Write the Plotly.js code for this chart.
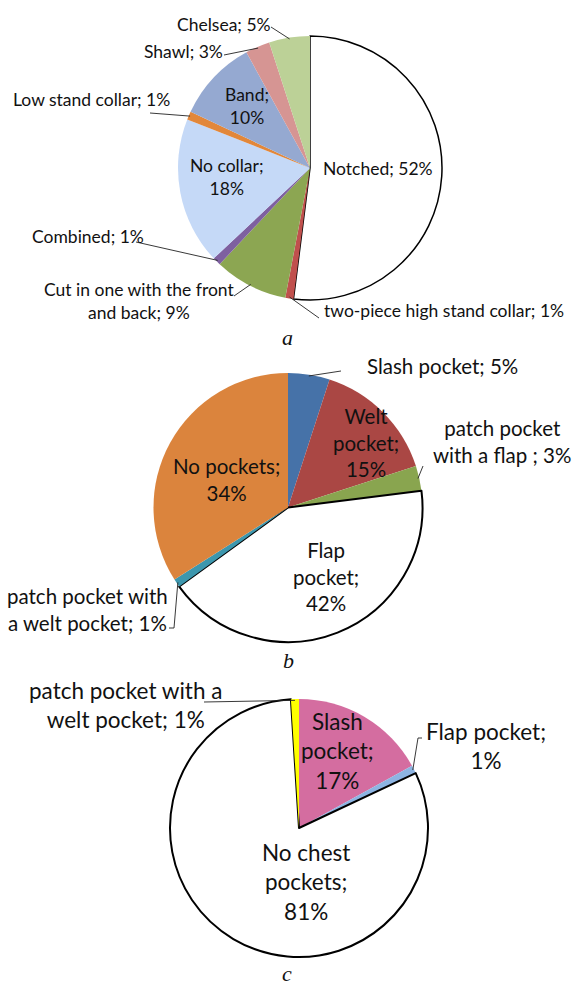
<!DOCTYPE html>
<html>
<head>
<meta charset="utf-8">
<script src="https://cdn.plot.ly/plotly-3.0.1.min.js"></script>
<style>html,body{margin:0;padding:0;background:#fff;}#chart{width:572px;height:988px;}</style>
</head>
<body>
<div id="chart"></div>
<script>
// ---- DATA ----
var collarLabels = ["Notched", "two-piece high stand collar", "Cut in one with the front and back", "Combined", "No collar", "Low stand collar", "Band", "Shawl", "Chelsea"];
var collarValues = [52, 1, 9, 1, 18, 1, 10, 3, 5];
var collarColors = ["#FFFFFF", "#C0504D", "#8CA652", "#7E60A0", "#C5D9F7", "#E2873A", "#95A9D1", "#D69593", "#BCD197"];

var pocketLabels = ["Slash pocket", "Welt pocket", "patch pocket with a flap ", "Flap pocket", "patch pocket with a welt pocket", "No pockets"];
var pocketValues = [5, 15, 3, 42, 1, 34];
var pocketColors = ["#4672A8", "#AA4744", "#89A54F", "#FFFFFF", "#3D97AE", "#DB843D"];

var chestLabels = ["Slash pocket", "Flap pocket", "No chest pockets", "patch pocket with a welt pocket"];
var chestValues = [17, 1, 81, 1];
var chestColors = ["#D46DA0", "#8DB4E2", "#FFFFFF", "#FFFF00"];

var panelLetters = ["a", "b", "c"];

// ---- LAYOUT (pixel geometry) ----
var W = 572, H = 988;
function px(x){ return x / W; }
function py(y){ return 1 - y / H; }

var pies = [
  {labels: collarLabels, values: collarValues, colors: collarColors, cx: 310, cy: 168, r: 132, font: 17.5,
   outline: [1.5,0,0,0,0,0,0,0,0],
   lab: [
     {t:[378,168], w:[2]},
     {t:[444,310], w:[5], lead:[[319,318]]},
     {t:[139,301], w:[6,3], lead:[[234,296]]},
     {t:[88,236], w:[2], lead:[[136,242]]},
     {t:[227,177], w:[2,1]},
     {t:[91,100], w:[4], lead:[[150,113]]},
     {t:[247,106], w:[1,1]},
     {t:[183,51], w:[2], lead:[[224,55]]},
     {t:[224,24], w:[2], lead:[[271,27]]}
   ], letter: [287,338]},
  {labels: pocketLabels, values: pocketValues, colors: pocketColors, cx: 288, cy: 507.5, r: 134.5, font: 20.5,
   outline: [0,0,0,2,0,0],
   lab: [
     {t:[442,366], w:[3], lead:[[341,371]]},
     {t:[366,442], w:[1,1,1]},
     {t:[502,441], w:[2,5], lead:[[423,466]]},
     {t:[326,576], w:[1,1,1]},
     {t:[87,609], w:[3,4], lead:[[174,628],[169,628]]},
     {t:[226,479], w:[2,1]}
   ], letter: [288,660]},
  {labels: chestLabels, values: chestValues, colors: chestColors, cx: 299, cy: 828, r: 129, font: 22.5,
   outline: [0,0,2,0],
   lab: [
     {t:[337,751], w:[1,1,1]},
     {t:[486,746], w:[2,1], lead:[[418,738],[422,738]]},
     {t:[306,882], w:[2,1,1]},
     {t:[125,705], w:[4,4], lead:[[204,702]]}
   ], letter: [287,973]}
];

var fontFam = "Lato, 'Open Sans', sans-serif";
var traces = [], annotations = [], shapes = [];

pies.forEach(function(p){
  traces.push({
    type: "pie", labels: p.labels, values: p.values, sort: false, direction: "clockwise", rotation: 0,
    marker: {colors: p.colors, line: {color: "#000", width: p.outline}},
    textinfo: "none", hoverinfo: "label+percent", showlegend: false,
    domain: {x: [px(p.cx - p.r), px(p.cx + p.r)], y: [py(p.cy + p.r), py(p.cy - p.r)]}
  });
  var total = p.values.reduce(function(a,b){return a+b;}, 0);
  var cum = 0;
  p.values.forEach(function(v, i){
    var mid = (cum + v/2) / total * 2 * Math.PI;
    cum += v;
    var L = p.lab[i];
    var words = (p.labels[i] + "; " + v + "%").split(" ").filter(function(s){return s.length;});
    var lines = [], k = 0;
    L.w.forEach(function(n, j){
      var take = (j === L.w.length - 1) ? words.length - k : n;
      lines.push(words.slice(k, k + take).join(" "));
      k += take;
    });
    var txt = lines.join("<br>");
    annotations.push({x: px(L.t[0]), y: py(L.t[1]), xref: "paper", yref: "paper", text: txt,
      showarrow: false, xanchor: "center", yanchor: "middle", align: "center",
      font: {family: fontFam, size: p.font, color: "#111"}});
    if (L.lead) {
      var sx = p.cx + p.r * 0.99 * Math.sin(mid), sy = p.cy - p.r * 0.99 * Math.cos(mid);
      var path = "M " + px(sx) + "," + py(sy);
      L.lead.forEach(function(pt){ path += " L " + px(pt[0]) + "," + py(pt[1]); });
      shapes.push({type: "path", xref: "paper", yref: "paper", path: path, line: {color: "#222", width: 0.9}});
    }
  });
});

pies.forEach(function(p, i){
  annotations.push({x: px(p.letter[0]), y: py(p.letter[1]), xref: "paper", yref: "paper", text: "<i>" + panelLetters[i] + "</i>",
    showarrow: false, xanchor: "center", yanchor: "middle",
    font: {family: "'Liberation Serif', 'Times New Roman', serif", size: 22, color: "#111"}});
});

var layout = {width: W, height: H, margin: {l:0, r:0, t:0, b:0}, paper_bgcolor: "#fff", plot_bgcolor: "#fff",
  annotations: annotations, shapes: shapes, showlegend: false};

Plotly.newPlot("chart", traces, layout, {displayModeBar: false, staticPlot: true});
</script>
</body>
</html>
